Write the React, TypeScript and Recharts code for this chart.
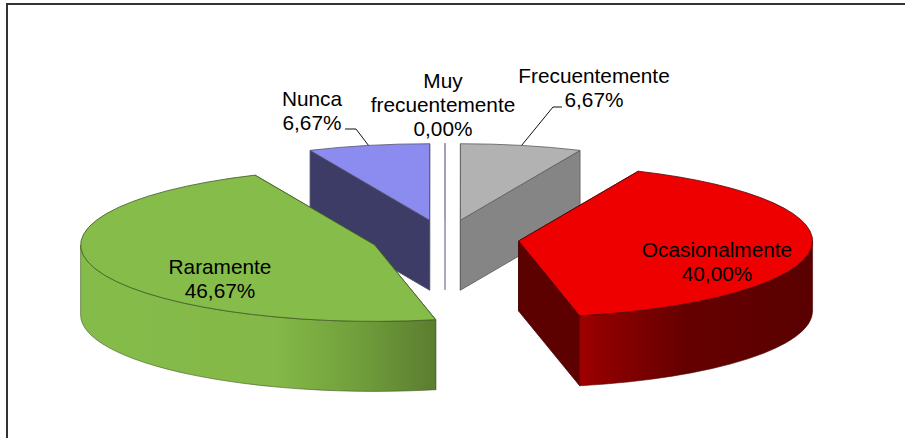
import { Pie, PieChart } from "recharts";

const categories = ["Nunca", "Muy frecuentemente", "Frecuentemente", "Ocasionalmente", "Raramente"];
const shares = [6.67, 0, 6.67, 40, 46.67];

const topColors = ["#8c8cf0", "#9c9cc0", "#b2b2b2", "#ee0000", "#86bc4a"];
const wallColors = ["#3c3c66", "#9c9cc0", "#858585", "#5c0000", "#5d7f30"];
const edgeColors = ["#50506e", "#9c9cb8", "#5c5c5c", "#4a0808", "#3f5a24"];
const rimStops: Record<string, [number, string][]> = {
  Ocasionalmente: [[0, "#a00000"], [0.12, "#8c0000"], [0.45, "#660000"], [1, "#5a0000"]],
  Raramente: [[0, "#84bc4a"], [0.55, "#84b848"], [0.78, "#719f3c"], [1, "#5b7d2f"]],
};

const labelSpots: Record<string, { x: number; y: number; leader?: [number, number, number] }> = {
  Nunca: { x: 312, y: 106, leader: [345, 356, 129] },
  "Muy frecuentemente": { x: 443, y: 88 },
  Frecuentemente: { x: 594, y: 83, leader: [562, 553, 107] },
  Ocasionalmente: { x: 717, y: 257 },
  Raramente: { x: 220, y: 274 },
};

const rows = categories.map((name, i) => ({
  name,
  share: shares[i],
  fill: topColors[i],
  wall: wallColors[i],
  edge: edgeColors[i],
}));

const WIDTH = 905;
const HEIGHT = 438;
const CX = 445;
const CY = 239;
const RADIUS = 294;
const TILT = 0.26; // vertical squash of the pie disc
const DEPTH = 70;
const EXPLODE = 74;
const RAD = Math.PI / 180;
const LINE_HEIGHT = 24;

// Centre of a slice's top face after it has been pulled out of the pie
function apexOf(cx: number, cy: number, start: number, end: number) {
  const mid = ((start + end) / 2) * RAD;
  return { x: cx + EXPLODE * Math.cos(mid), y: cy - EXPLODE * TILT * Math.sin(mid) };
}

function Slice3D(props: any) {
  const { cx, cy, startAngle, endAngle, outerRadius, fill, payload } = props;
  const apex = apexOf(cx, cy, startAngle, endAngle);
  const rx = outerRadius;
  const ry = outerRadius * TILT;
  const at = (deg: number, drop = 0) => ({
    x: apex.x + rx * Math.cos(deg * RAD),
    y: apex.y - ry * Math.sin(deg * RAD) + drop,
  });
  const wallPath = (deg: number) => {
    const a = at(deg);
    return `M${apex.x},${apex.y} L${a.x},${a.y} L${a.x},${a.y + DEPTH} L${apex.x},${apex.y + DEPTH} Z`;
  };
  const s = at(startAngle);
  const e = at(endAngle);
  const large = startAngle - endAngle > 180 ? 1 : 0;
  const top = `M${apex.x},${apex.y} L${s.x},${s.y} A${rx},${ry} 0 ${large} 1 ${e.x},${e.y} Z`;

  // only the front half of the rim can be seen
  const hi = Math.min(startAngle, 0);
  const lo = Math.max(endAngle, -180);
  let rim = null;
  if (hi > lo) {
    const h = at(hi);
    const l = at(lo);
    const d =
      `M${h.x},${h.y} A${rx},${ry} 0 0 1 ${l.x},${l.y} L${l.x},${l.y + DEPTH} ` +
      `A${rx},${ry} 0 0 0 ${h.x},${h.y + DEPTH} Z`;
    rim = <path d={d} fill={rimStops[payload.name] ? `url(#rim-${payload.name})` : payload.wall} stroke={payload.edge} strokeWidth={0.6} />;
  }

  return (
    <g>
      {rimStops[payload.name] && (
        <defs>
          <linearGradient id={`rim-${payload.name}`} x1="0" x2="1" y1="0" y2="0">
            {rimStops[payload.name].map(([offset, color]) => (
              <stop key={offset} offset={offset} stopColor={color} />
            ))}
          </linearGradient>
        </defs>
      )}
      <path d={wallPath(startAngle)} fill={payload.wall} stroke={payload.edge} strokeWidth={0.8} />
      <path d={wallPath(endAngle)} fill={payload.wall} stroke={payload.edge} strokeWidth={0.8} />
      {rim}
      <path d={top} fill={fill} stroke={payload.edge} strokeWidth={0.8} strokeLinejoin="round" />
    </g>
  );
}

function SliceLabel(props: any) {
  const { cx, cy, startAngle, endAngle, outerRadius, name, value } = props;
  const spot = labelSpots[name];
  const lines = [...name.split(" "), `${value.toFixed(2).replace(".", ",")}%`];
  const apex = apexOf(cx, cy, startAngle, endAngle);
  const mid = ((startAngle + endAngle) / 2) * RAD;
  const rimX = apex.x + outerRadius * Math.cos(mid);
  const rimY = apex.y - outerRadius * TILT * Math.sin(mid);
  return (
    <g>
      {spot.leader && (
        <polyline
          points={`${spot.leader[0]},${spot.leader[2]} ${spot.leader[1]},${spot.leader[2]} ${rimX},${rimY}`}
          fill="none"
          stroke="#111"
          strokeWidth={1}
        />
      )}
      <text textAnchor="middle" fontFamily="'Liberation Sans', Arial, sans-serif" fontSize={20.8} fill="#000">
        {lines.map((line: string, i: number) => (
          <tspan key={line} x={spot.x} y={spot.y + i * LINE_HEIGHT}>
            {line}
          </tspan>
        ))}
      </text>
    </g>
  );
}

export default function App() {
  return (
    <div style={{ position: "absolute", left: 0, top: 0, width: WIDTH, height: HEIGHT, overflow: "hidden", background: "#fff" }}>
      <div
        style={{
          position: "absolute",
          left: 6,
          top: 3,
          width: WIDTH,
          height: HEIGHT,
          borderTop: "2px solid #333",
          borderLeft: "2px solid #333",
        }}
      />
      <div style={{ position: "absolute", left: 0, top: 0 }}>
        <PieChart width={WIDTH} height={HEIGHT} margin={{ top: 0, right: 0, bottom: 0, left: 0 }}>
          <Pie
            data={rows}
            dataKey="share"
            nameKey="name"
            cx={CX}
            cy={CY}
            innerRadius={0}
            outerRadius={RADIUS}
            startAngle={114}
            endAngle={-246}
            shape={Slice3D}
            label={SliceLabel}
            labelLine={false}
            isAnimationActive={false}
          />
        </PieChart>
      </div>
    </div>
  );
}
